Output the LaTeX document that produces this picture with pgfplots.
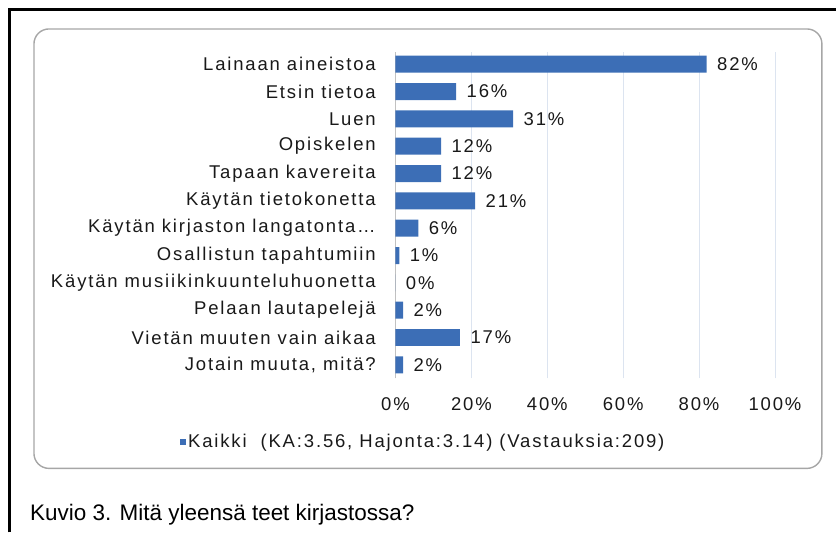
\documentclass[border=0pt]{standalone}
\usepackage{fontspec}
\setmainfont{Liberation Sans}
\newfontfamily\chartfont[LetterSpace=10]{Liberation Sans}
\usepackage{pgfplots}
\pgfplotsset{compat=1.18}
\definecolor{barmid}{RGB}{60,110,182}
\definecolor{gridc}{RGB}{220,228,240}
\definecolor{framec}{RGB}{166,166,166}

\begin{document}
\begin{tikzpicture}[x=1pt,y=1pt]
% page = 837 x 533 px, 1px = 1pt, y measured upward
\path (0,0) rectangle (837,533);
\draw[black, line width=2.2pt] (9.5,0) -- (9.5,523.5) -- (837,523.5);
\draw[framec, line width=1.4pt, rounded corners=15pt] (34,64) rectangle (823,504);
\node[anchor=west, font=\fontsize{22.5}{26}\selectfont, inner sep=0pt] at (30,18) {Kuvio 3. Mitä yleensä teet kirjastossa?};

\begin{axis}[
    at={(396pt,154pt)}, anchor=south west,
    scale only axis, width=380pt, height=327pt,
    xmin=0, xmax=100, ymin=0.5, ymax=12.45,
    xbar, bar width=17pt,
    /pgf/number format/assume math mode=true,
    axis line style={draw=none},
    xtick={0,20,40,60,80,100},
    xticklabel={\pgfmathprintnumber{\tick}\%},
    xtick style={draw=none}, ytick style={draw=none},
    xmajorgrids, major grid style={gridc, line width=0.8pt},
    ytick={1,2,3,4,5,6,7,8,9,10,11,12},
    yticklabels={{Jotain muuta, mitä?},{Vietän muuten vain aikaa},{Pelaan lautapelejä},{Käytän musiikinkuunteluhuonetta},{Osallistun tapahtumiin},{Käytän kirjaston langatonta…},{Käytän tietokonetta},{Tapaan kavereita},{Opiskelen},{Luen},{Etsin tietoa},{Lainaan aineistoa}},
    ticklabel style={font=\chartfont\fontsize{18.5}{21}\selectfont, text=black!90},
    xticklabel style={yshift=-16pt},
    yticklabel style={xshift=-12pt},
    nodes near coords={\pgfmathprintnumber{\pgfplotspointmeta}\%},
    nodes near coords style={font=\chartfont\fontsize{18.5}{21}\selectfont, text=black!90, anchor=west, xshift=7pt},
    legend style={at={(-0.568,-0.193)}, anchor=west, draw=none, fill=none,
        font=\chartfont\fontsize{18.5}{21}\selectfont, text=black!90,
        inner sep=0pt, cells={anchor=west}},
    legend image code/.code={\fill[barmid] (0pt,-3pt) rectangle (6pt,3pt);},
    clip=false,
]
\draw[framec!70, line width=1.2pt] (axis cs:0,0.5) -- (axis cs:0,12.45);
\addplot[draw=none, fill=barmid] coordinates {
    (2,1) (17,2) (2,3) (0,4) (1,5) (6,6) (21,7) (12,8) (12,9) (31,10) (16,11) (82,12)
};
\addlegendentry{Kaikki\ \ (KA:3.56, Hajonta:3.14) (Vastauksia:209)}
\end{axis}
\end{tikzpicture}
\end{document}
